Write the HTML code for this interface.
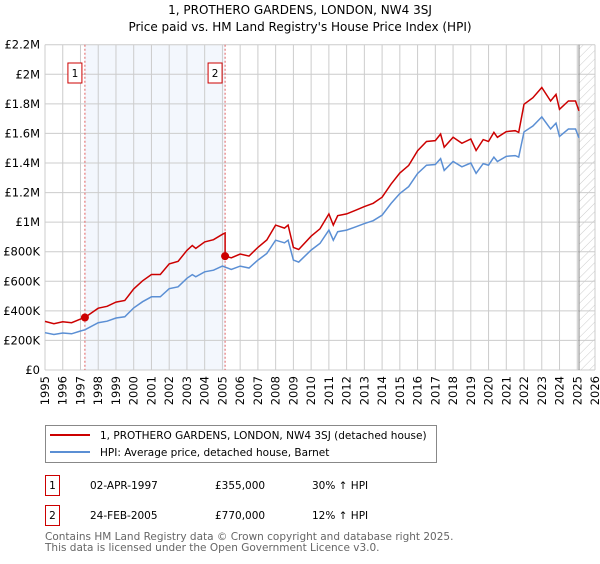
<!DOCTYPE html>
<html><head><meta charset="utf-8"><style>
body{margin:0;background:#fff;width:600px;height:560px;overflow:hidden;font-family:"DejaVu Sans","Liberation Sans",sans-serif}
svg text{font-family:"DejaVu Sans","Liberation Sans",sans-serif}
</style></head><body>
<svg id="chart" width="600" height="560" xmlns="http://www.w3.org/2000/svg">
<defs><pattern id="hatch" patternUnits="userSpaceOnUse" width="6" height="6" patternTransform="rotate(45)"><line x1="0" y1="0" x2="0" y2="6" stroke="#ccc" stroke-width="1"/></pattern></defs>
<text x="300" y="14" text-anchor="middle" font-size="12">1, PROTHERO GARDENS, LONDON, NW4 3SJ</text>
<text x="300" y="31" text-anchor="middle" font-size="12">Price paid vs. HM Land Registry's House Price Index (HPI)</text>
<g id="grid"></g>
<g id="marks"></g>
<g id="axes"></g>
<g>
<rect x="45.5" y="425.5" width="391" height="37" fill="#fff" stroke="#888"/>
<line x1="50" y1="435" x2="90" y2="435" stroke="#cc0000" stroke-width="2"/>
<text x="100" y="439" font-size="10.5">1, PROTHERO GARDENS, LONDON, NW4 3SJ (detached house)</text>
<line x1="50" y1="452" x2="90" y2="452" stroke="#5b8fd4" stroke-width="2"/>
<text x="100" y="456" font-size="10.5">HPI: Average price, detached house, Barnet</text>
</g>
<g font-size="10.5">
<rect x="45.5" y="475.5" width="14" height="20" fill="#fff" stroke="#cc0000"/>
<text x="52.5" y="489" text-anchor="middle">1</text>
<text x="90" y="489">02-APR-1997</text>
<text x="215" y="489">£355,000</text>
<text x="312" y="489">30% ↑ HPI</text>
<rect x="45.5" y="505.5" width="14" height="20" fill="#fff" stroke="#cc0000"/>
<text x="52.5" y="519" text-anchor="middle">2</text>
<text x="90" y="519">24-FEB-2005</text>
<text x="215" y="519">£770,000</text>
<text x="312" y="519">12% ↑ HPI</text>
</g>
<text x="45" y="540" font-size="10.5" fill="#666">Contains HM Land Registry data © Crown copyright and database right 2025.</text>
<text x="45" y="551" font-size="10.5" fill="#666">This data is licensed under the Open Government Licence v3.0.</text>
</svg>
<script>
const hpiYears=[1995,1995.5,1996,1996.5,1997,1997.25,1998,1998.5,1999,1999.5,2000,2000.5,2001,2001.5,2002,2002.5,2003,2003.3,2003.5,2004,2004.5,2005,2005.5,2006,2006.5,2007,2007.5,2008,2008.5,2008.7,2009,2009.3,2010,2010.5,2011,2011.25,2011.5,2012,2012.5,2013,2013.5,2014,2014.5,2015,2015.5,2016,2016.5,2017,2017.3,2017.5,2018,2018.5,2019,2019.3,2019.7,2020,2020.3,2020.5,2021,2021.5,2021.7,2022,2022.5,2023,2023.5,2023.8,2024,2024.5,2024.9,2025.1];
const hpiValues=[252000,240000,250000,245000,264000,272000,320000,330000,352000,360000,420000,462000,495000,495000,550000,563000,620000,645000,630000,664000,675000,703000,680000,703000,690000,743000,788000,878000,860000,878000,743000,730000,811000,856000,946000,878000,935000,946000,968000,990000,1010000,1047000,1126000,1194000,1240000,1329000,1385000,1390000,1430000,1350000,1410000,1374000,1400000,1330000,1396000,1385000,1440000,1410000,1445000,1450000,1440000,1610000,1650000,1712000,1630000,1670000,1580000,1630000,1630000,1570000];
const saleYears=[1997.25,2005.15];
const salePrices=[355000,770000];
const saleHpi=[272000,690000];
const yTicks=[0,200000,400000,600000,800000,1000000,1200000,1400000,1600000,1800000,2000000,2200000];
const yTickLabels=["£0","£200K","£400K","£600K","£800K","£1M","£1.2M","£1.4M","£1.6M","£1.8M","£2M","£2.2M"];
const xTicks=[1995,1996,1997,1998,1999,2000,2001,2002,2003,2004,2005,2006,2007,2008,2009,2010,2011,2012,2013,2014,2015,2016,2017,2018,2019,2020,2021,2022,2023,2024,2025,2026];
const dataEnd=2025.1;

const NS="http://www.w3.org/2000/svg";
const L=45,R=595,T=44.7,B=370;
const xs=y=>L+(y-1995)/(2026-1995)*(R-L);
const ys=v=>B-v/2200000*(B-T);
function mk(p,tag,at){const e=document.createElementNS(NS,tag);for(const k in at)e.setAttribute(k,at[k]);p.appendChild(e);return e;}
const grid=document.getElementById('grid'),marks=document.getElementById('marks'),axes=document.getElementById('axes');

const shade=mk(grid,'rect',{x:xs(saleYears[0]),y:T,width:xs(saleYears[1])-xs(saleYears[0]),height:B-T,fill:'#eef3fc',opacity:0.7});


const hatch=mk(grid,'rect',{x:xs(dataEnd),y:T,width:R-xs(dataEnd),height:B-T,fill:'url(#hatch)'});


yTicks.forEach((v,i)=>{
 const g=mk(grid,'line',{x1:L,x2:R,y1:ys(v),y2:ys(v),stroke:'#ccc','stroke-width':1});
 
 
 const t=mk(axes,'text',{x:L-5,y:ys(v)+4,'text-anchor':'end','font-size':'11.5'});
 t.textContent=yTickLabels[i];
 
 
});
xTicks.forEach(yr=>{
 const g=mk(grid,'line',{x1:xs(yr),x2:xs(yr),y1:T,y2:B,stroke:'#ccc','stroke-width':1});
 
 
 const t=mk(axes,'text',{x:0,y:0,'text-anchor':'end','font-size':'11.5',transform:`translate(${xs(yr)+4},${B+6}) rotate(-90)`});
 t.textContent=yr;
 
 
});
const endLine=mk(grid,'line',{x1:xs(dataEnd),x2:xs(dataEnd),y1:T,y2:B,stroke:'#888','stroke-width':1});



saleYears.forEach((sy,i)=>{
 const v=mk(marks,'line',{x1:xs(sy),x2:xs(sy),y1:T,y2:B,stroke:'#e06060','stroke-width':1,'stroke-dasharray':'2,2'});
 
 
 const bx=mk(marks,'rect',{x:xs(sy)-17,y:63,width:14,height:20,fill:'#fff',stroke:'#cc0000'});
 
 
 const t=mk(marks,'text',{x:xs(sy)-10,y:77,'text-anchor':'middle','font-size':'10.5'});
 t.textContent=String(i+1);
 
 
});

const hpiPts=hpiYears.map((y,i)=>xs(y).toFixed(1)+','+ys(hpiValues[i]).toFixed(1));
const hpiLine=mk(marks,'polyline',{points:hpiPts.join(' '),fill:'none',stroke:'#5b8fd4','stroke-width':1.5});



const redPts=[];
hpiYears.forEach((y,i)=>{
 const k=y<saleYears[1]?0:1;
 const val=hpiValues[i]*salePrices[k]/saleHpi[k];
 if(k===1&&redPts.length&&hpiYears[i-1]<saleYears[1]){
  redPts.push(xs(saleYears[1]).toFixed(1)+','+ys(hpiValues[i-1]*salePrices[0]/saleHpi[0]*1.01).toFixed(1));
  redPts.push(xs(saleYears[1]).toFixed(1)+','+ys(salePrices[1]).toFixed(1));
 }
 redPts.push(xs(y).toFixed(1)+','+ys(val).toFixed(1));
});
const redLine=mk(marks,'polyline',{points:redPts.join(' '),fill:'none',stroke:'#cc0000','stroke-width':1.5});



saleYears.forEach((sy,i)=>{
 const c=mk(marks,'circle',{cx:xs(sy),cy:ys(salePrices[i]),r:4,fill:'#cc0000'});
 
 
});
</script>
</body></html>
